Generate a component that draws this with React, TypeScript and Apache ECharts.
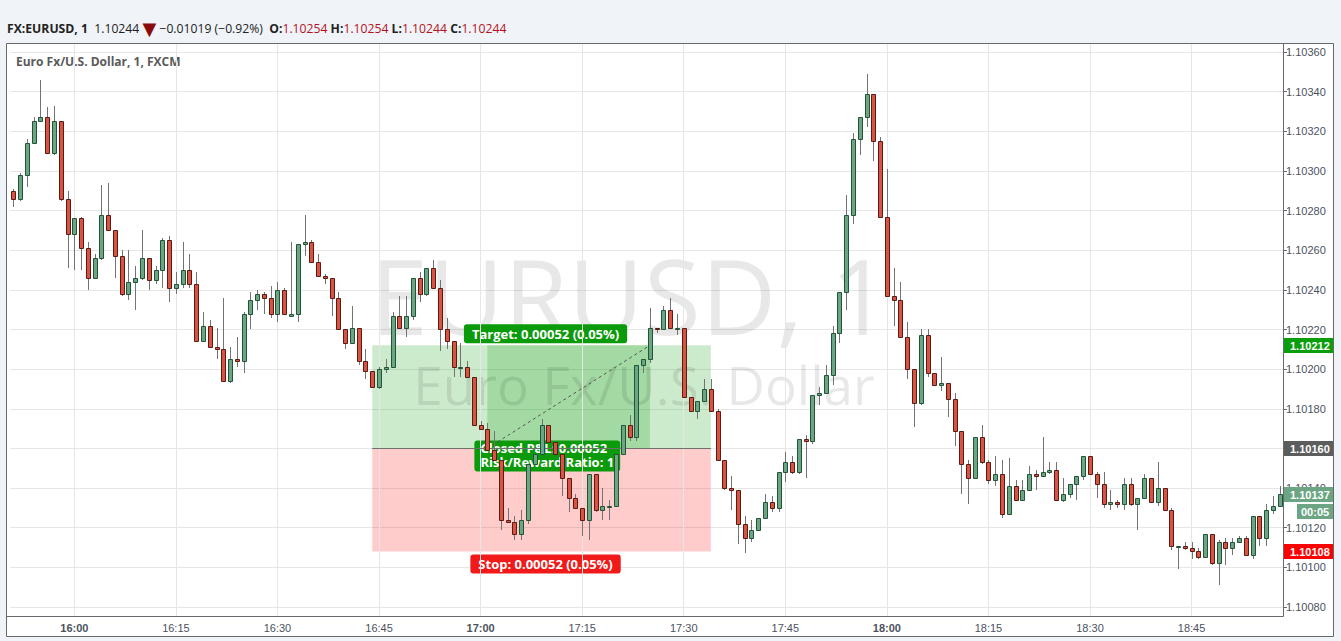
import React, { useEffect, useRef } from 'react';
import * as echarts from 'echarts';

// ---------- categories (1-minute bars from 15:51) ----------
const firstBarMinute = 15 * 60 + 51;
const barCount = 188;
const times: string[] = Array.from({ length: barCount }, (_, i) => {
  const m = firstBarMinute + i;
  return `${Math.floor(m / 60)}:${String(m % 60).padStart(2, '0')}`;
});

// ---------- OHLC values ----------
const openPrices = [
  1.10290, 1.10286, 1.10298, 1.10314, 1.10325, 1.10327, 1.10309, 1.10325, 1.10286, 1.10268,
  1.10276, 1.10261, 1.10246, 1.10256, 1.10278, 1.10270, 1.10257, 1.10238, 1.10244, 1.10246,
  1.10256, 1.10245, 1.10250, 1.10265, 1.10241, 1.10243, 1.10250, 1.10243, 1.10214, 1.10222,
  1.10211, 1.10210, 1.10194, 1.10205, 1.10204, 1.10228, 1.10235, 1.10238, 1.10236, 1.10228,
  1.10240, 1.10227, 1.10228, 1.10263, 1.10264, 1.10254, 1.10247, 1.10246, 1.10236, 1.10220,
  1.10213, 1.10221, 1.10204, 1.10199, 1.10191, 1.10200, 1.10201, 1.10227, 1.10221, 1.10227,
  1.10246, 1.10238, 1.10251, 1.10241, 1.10220, 1.10214, 1.10201, 1.10201, 1.10196, 1.10172,
  1.10170, 1.10159, 1.10154, 1.10124, 1.10123, 1.10117, 1.10124, 1.10152, 1.10157, 1.10172,
  1.10163, 1.10157, 1.10145, 1.10135, 1.10130, 1.10124, 1.10147, 1.10129, 1.10131, 1.10131,
  1.10157, 1.10172, 1.10166, 1.10202, 1.10205, 1.10221, 1.10220, 1.10230, 1.10221, 1.10221,
  1.10186, 1.10179, 1.10184, 1.10190, 1.10179, 1.10154, 1.10140, 1.10139, 1.10122, 1.10115,
  1.10119, 1.10125, 1.10133, 1.10130, 1.10148, 1.10153, 1.10148, 1.10165, 1.10164, 1.10187,
  1.10188, 1.10197, 1.10218, 1.10239, 1.10278, 1.10316, 1.10327, 1.10339, 1.10315, 1.10277,
  1.10237, 1.10235, 1.10216, 1.10200, 1.10183, 1.10217, 1.10198, 1.10192, 1.10193, 1.10185,
  1.10169, 1.10152, 1.10145, 1.10166, 1.10153, 1.10144, 1.10147, 1.10127, 1.10141, 1.10134,
  1.10139, 1.10147, 1.10146, 1.10148, 1.10149, 1.10134, 1.10137, 1.10142, 1.10146, 1.10156,
  1.10147, 1.10142, 1.10132, 1.10133, 1.10132, 1.10142, 1.10132, 1.10135, 1.10145, 1.10133,
  1.10140, 1.10129, 1.10111, 1.10111, 1.10110, 1.10108, 1.10105, 1.10117, 1.10102, 1.10113,
  1.10110, 1.10113, 1.10115, 1.10106, 1.10126, 1.10115, 1.10129, 1.10131,
];
const highPrices = [
  1.10291, 1.10299, 1.10316, 1.10327, 1.10346, 1.10332, 1.10333, 1.10325, 1.10290, 1.10276,
  1.10277, 1.10264, 1.10258, 1.10293, 1.10294, 1.10270, 1.10260, 1.10260, 1.10252, 1.10270,
  1.10256, 1.10252, 1.10266, 1.10267, 1.10249, 1.10264, 1.10258, 1.10249, 1.10229, 1.10225,
  1.10221, 1.10236, 1.10211, 1.10216, 1.10229, 1.10239, 1.10240, 1.10239, 1.10242, 1.10244,
  1.10241, 1.10264, 1.10263, 1.10278, 1.10265, 1.10258, 1.10248, 1.10246, 1.10239, 1.10220,
  1.10232, 1.10221, 1.10210, 1.10199, 1.10201, 1.10205, 1.10229, 1.10237, 1.10237, 1.10246,
  1.10249, 1.10251, 1.10255, 1.10245, 1.10226, 1.10214, 1.10213, 1.10204, 1.10196, 1.10174,
  1.10173, 1.10169, 1.10154, 1.10130, 1.10126, 1.10129, 1.10152, 1.10157, 1.10175, 1.10172,
  1.10163, 1.10157, 1.10145, 1.10137, 1.10130, 1.10147, 1.10147, 1.10140, 1.10134, 1.10157,
  1.10172, 1.10177, 1.10202, 1.10205, 1.10231, 1.10221, 1.10232, 1.10236, 1.10228, 1.10221,
  1.10186, 1.10184, 1.10195, 1.10195, 1.10180, 1.10154, 1.10146, 1.10139, 1.10126, 1.10124,
  1.10125, 1.10137, 1.10136, 1.10148, 1.10158, 1.10156, 1.10165, 1.10167, 1.10187, 1.10191,
  1.10202, 1.10222, 1.10239, 1.10288, 1.10319, 1.10327, 1.10349, 1.10339, 1.10317, 1.10301,
  1.10251, 1.10244, 1.10224, 1.10200, 1.10220, 1.10220, 1.10198, 1.10206, 1.10193, 1.10188,
  1.10169, 1.10154, 1.10166, 1.10172, 1.10154, 1.10156, 1.10154, 1.10155, 1.10144, 1.10144,
  1.10151, 1.10149, 1.10166, 1.10153, 1.10153, 1.10145, 1.10142, 1.10146, 1.10156, 1.10156,
  1.10148, 1.10148, 1.10139, 1.10134, 1.10145, 1.10145, 1.10135, 1.10147, 1.10145, 1.10153,
  1.10140, 1.10130, 1.10111, 1.10113, 1.10113, 1.10110, 1.10117, 1.10117, 1.10114, 1.10115,
  1.10115, 1.10116, 1.10116, 1.10126, 1.10126, 1.10132, 1.10136, 1.10141,
];
const lowPrices = [
  1.10282, 1.10285, 1.10292, 1.10314, 1.10325, 1.10309, 1.10308, 1.10285, 1.10251, 1.10250,
  1.10250, 1.10240, 1.10246, 1.10255, 1.10270, 1.10246, 1.10237, 1.10235, 1.10230, 1.10245,
  1.10240, 1.10243, 1.10241, 1.10234, 1.10238, 1.10241, 1.10241, 1.10214, 1.10214, 1.10211,
  1.10205, 1.10194, 1.10193, 1.10201, 1.10198, 1.10220, 1.10230, 1.10228, 1.10226, 1.10224,
  1.10228, 1.10227, 1.10224, 1.10257, 1.10254, 1.10247, 1.10243, 1.10227, 1.10220, 1.10210,
  1.10213, 1.10202, 1.10195, 1.10191, 1.10190, 1.10198, 1.10201, 1.10220, 1.10216, 1.10225,
  1.10234, 1.10237, 1.10241, 1.10209, 1.10210, 1.10196, 1.10196, 1.10196, 1.10172, 1.10170,
  1.10159, 1.10154, 1.10119, 1.10123, 1.10114, 1.10114, 1.10122, 1.10152, 1.10157, 1.10163,
  1.10157, 1.10136, 1.10128, 1.10130, 1.10116, 1.10114, 1.10128, 1.10124, 1.10124, 1.10131,
  1.10157, 1.10164, 1.10164, 1.10198, 1.10203, 1.10218, 1.10220, 1.10221, 1.10217, 1.10186,
  1.10179, 1.10175, 1.10184, 1.10179, 1.10154, 1.10139, 1.10129, 1.10112, 1.10107, 1.10113,
  1.10119, 1.10125, 1.10128, 1.10128, 1.10143, 1.10147, 1.10147, 1.10145, 1.10162, 1.10182,
  1.10188, 1.10192, 1.10213, 1.10230, 1.10273, 1.10308, 1.10322, 1.10305, 1.10277, 1.10237,
  1.10222, 1.10216, 1.10195, 1.10171, 1.10182, 1.10196, 1.10192, 1.10189, 1.10176, 1.10161,
  1.10137, 1.10132, 1.10145, 1.10152, 1.10142, 1.10141, 1.10125, 1.10127, 1.10134, 1.10134,
  1.10139, 1.10139, 1.10146, 1.10147, 1.10134, 1.10133, 1.10135, 1.10134, 1.10144, 1.10147,
  1.10135, 1.10130, 1.10129, 1.10130, 1.10129, 1.10131, 1.10119, 1.10135, 1.10133, 1.10131,
  1.10129, 1.10109, 1.10099, 1.10109, 1.10104, 1.10104, 1.10105, 1.10101, 1.10091, 1.10101,
  1.10106, 1.10113, 1.10106, 1.10104, 1.10111, 1.10111, 1.10127, 1.10131,
];
const closePrices = [
  1.10286, 1.10298, 1.10314, 1.10325, 1.10327, 1.10309, 1.10325, 1.10286, 1.10268, 1.10276,
  1.10261, 1.10246, 1.10256, 1.10278, 1.10270, 1.10257, 1.10238, 1.10244, 1.10246, 1.10256,
  1.10245, 1.10250, 1.10265, 1.10241, 1.10243, 1.10250, 1.10243, 1.10214, 1.10222, 1.10211,
  1.10210, 1.10194, 1.10205, 1.10204, 1.10228, 1.10235, 1.10238, 1.10236, 1.10228, 1.10240,
  1.10228, 1.10228, 1.10263, 1.10264, 1.10254, 1.10247, 1.10246, 1.10236, 1.10220, 1.10213,
  1.10221, 1.10204, 1.10199, 1.10191, 1.10200, 1.10201, 1.10227, 1.10221, 1.10227, 1.10246,
  1.10238, 1.10251, 1.10241, 1.10220, 1.10214, 1.10201, 1.10201, 1.10196, 1.10172, 1.10170,
  1.10159, 1.10154, 1.10124, 1.10123, 1.10117, 1.10124, 1.10152, 1.10157, 1.10172, 1.10163,
  1.10157, 1.10145, 1.10135, 1.10130, 1.10124, 1.10147, 1.10129, 1.10131, 1.10131, 1.10157,
  1.10172, 1.10166, 1.10202, 1.10205, 1.10221, 1.10220, 1.10230, 1.10221, 1.10221, 1.10186,
  1.10179, 1.10184, 1.10190, 1.10179, 1.10154, 1.10140, 1.10139, 1.10122, 1.10115, 1.10119,
  1.10125, 1.10133, 1.10130, 1.10148, 1.10153, 1.10148, 1.10165, 1.10164, 1.10187, 1.10188,
  1.10197, 1.10218, 1.10239, 1.10278, 1.10316, 1.10327, 1.10339, 1.10315, 1.10277, 1.10237,
  1.10235, 1.10216, 1.10200, 1.10183, 1.10217, 1.10198, 1.10192, 1.10193, 1.10185, 1.10169,
  1.10152, 1.10145, 1.10166, 1.10153, 1.10144, 1.10147, 1.10127, 1.10141, 1.10134, 1.10139,
  1.10147, 1.10146, 1.10148, 1.10149, 1.10134, 1.10137, 1.10142, 1.10146, 1.10156, 1.10147,
  1.10142, 1.10132, 1.10133, 1.10132, 1.10142, 1.10132, 1.10135, 1.10145, 1.10133, 1.10140,
  1.10129, 1.10111, 1.10111, 1.10110, 1.10108, 1.10105, 1.10117, 1.10102, 1.10113, 1.10110,
  1.10113, 1.10115, 1.10106, 1.10126, 1.10115, 1.10129, 1.10131, 1.10137,
];

// ---------- axis / annotation values ----------
const priceMin = 1.1008;
const priceMax = 1.1036;
const priceStep = 0.0002;
const timeLabelEvery = 15;
const firstLabelIndex = 9; // 16:00
const crosshairPrice = 1.10244;
const entryPrice = 1.1016;
const targetPrice = 1.10212;
const stopPrice = 1.10108;
const lastPrice = 1.10137;
const positionStart = '16:44';
const positionEnd = '17:34';
const entryTime = '17:01';
const exitTime = '17:25';
const targetText = 'Target: 0.00052 (0.05%)';
const stopText = 'Stop: 0.00052 (0.05%)';
const closedText = 'Closed P&L: 0.00052\nRisk/Reward Ratio: 1';
const countdownText = '00:05';

const UP_FILL = '#6ba583';
const UP_BORDER = '#225437';
const DOWN_FILL = '#d75442';
const DOWN_BORDER = '#5b1a13';
const WICK = '#737375';
const GRID = '#e6e6e6';
const FRAME = '#666a70';
const AXIS_TEXT = '#4c525e';
const LABEL_FONT = '"Open Sans", "Noto Sans", sans-serif';
const AXIS_FONT = '"Liberation Sans", Arial, sans-serif';

const candleRows = times.map((_, i) => [i, openPrices[i], closePrices[i], lowPrices[i], highPrices[i]]);
const labelTimes = times.filter((_, i) => i >= firstLabelIndex && (i - firstLabelIndex) % timeLabelEvery === 0);

const renderCandle = (_params: any, api: any) => {
  const i = api.value(0);
  const o = api.value(1);
  const c = api.value(2);
  const l = api.value(3);
  const h = api.value(4);
  const po = api.coord([i, o]);
  const pc = api.coord([i, c]);
  const pl = api.coord([i, l]);
  const ph = api.coord([i, h]);
  const xc = Math.round(po[0]);
  const up = c >= o;
  const top = Math.round(Math.min(po[1], pc[1]));
  let bot = Math.round(Math.max(po[1], pc[1]));
  if (bot - top < 1) bot = top + 1;
  return {
    type: 'group',
    children: [
      {
        type: 'line',
        shape: { x1: xc + 0.5, y1: Math.round(ph[1]), x2: xc + 0.5, y2: Math.round(pl[1]) },
        style: { stroke: WICK, lineWidth: 1 },
      },
      {
        type: 'rect',
        shape: { x: xc - 1.5, y: top + 0.5, width: 4, height: bot - top },
        style: { fill: up ? UP_FILL : DOWN_FILL, stroke: up ? UP_BORDER : DOWN_BORDER, lineWidth: 1 },
      },
    ],
  };
};

export default function App() {
  const ref = useRef<HTMLDivElement>(null);

  useEffect(() => {
    if (!ref.current) return;
    const chart = echarts.init(ref.current, undefined, { renderer: 'svg' });
    const W = 1341;
    const H = 641;
    const plotLeft = 6;
    const plotTop = 44;
    const plotRight = 1283;
    const plotBottom = 616;
    const frameRight = 1333;
    const frameBottom = 637;

    chart.setOption({
      animation: false,
      backgroundColor: '#f0f3f7',
      grid: [
        { left: 10, right: W - plotRight, top: 52, bottom: H - 607 },
        { left: 10, right: W - plotRight, top: plotTop, bottom: H - plotBottom },
      ],
      xAxis: [
        { type: 'category', gridIndex: 0, data: times, boundaryGap: true, show: false },
        {
          type: 'category',
          gridIndex: 1,
          data: times,
          boundaryGap: true,
          axisLine: { show: false },
          axisTick: { show: false },
          splitLine: { show: false },
          axisLabel: {
            interval: (index: number) => index >= firstLabelIndex && (index - firstLabelIndex) % timeLabelEvery === 0,
            color: AXIS_TEXT,
            fontSize: 11,
            fontFamily: AXIS_FONT,
            margin: 6,
            formatter: (v: string) => (v.endsWith(':00') ? `{b|${v}}` : v),
            rich: { b: { fontWeight: 'bold', fontSize: 11, fontFamily: AXIS_FONT, color: AXIS_TEXT } },
          },
        },
      ],
      yAxis: [
        {
          type: 'value',
          gridIndex: 0,
          position: 'right',
          min: priceMin,
          max: priceMax,
          interval: priceStep,
          axisLine: { show: false },
          axisTick: { show: true, length: 4, lineStyle: { color: FRAME } },
          axisLabel: {
            color: AXIS_TEXT,
            fontSize: 11,
            fontFamily: AXIS_FONT,
            margin: 3,
            // the 1.10160 tick label is fully covered by the entry-price marker
            formatter: (v: number) => (Math.abs(v - entryPrice) < 1e-9 ? '' : v.toFixed(5)),
          },
          splitLine: { show: true, lineStyle: { color: GRID, width: 1 } },
        },
        { type: 'value', gridIndex: 1, min: 0, max: 1, show: false },
      ],
      series: [
        {
          type: 'line',
          xAxisIndex: 1,
          yAxisIndex: 1,
          data: [],
          z: 1,
          silent: true,
          markLine: {
            silent: true,
            symbol: ['none', 'none'],
            label: { show: false },
            lineStyle: { color: GRID, width: 1, type: 'solid' },
            data: labelTimes.map((t) => ({ xAxis: t })),
          },
        },
        {
          type: 'line',
          xAxisIndex: 0,
          yAxisIndex: 0,
          data: [],
          z: 2,
          silent: true,
          markArea: {
            silent: true,
            data: [
              [
                { xAxis: positionStart, yAxis: entryPrice, itemStyle: { color: 'rgba(0,150,0,0.2)' } },
                { xAxis: positionEnd, yAxis: targetPrice },
              ],
              [
                { xAxis: entryTime, yAxis: entryPrice, itemStyle: { color: 'rgba(0,150,0,0.2)' } },
                { xAxis: exitTime, yAxis: targetPrice },
              ],
              [
                { xAxis: positionStart, yAxis: stopPrice, itemStyle: { color: 'rgba(255,0,0,0.2)' } },
                { xAxis: positionEnd, yAxis: entryPrice },
              ],
            ],
          },
          markLine: {
            silent: true,
            symbol: ['none', 'none'],
            label: { show: false },
            data: [
              [
                { coord: [positionStart, entryPrice], lineStyle: { color: '#6f6f6f', width: 1, type: 'solid' } },
                { coord: [positionEnd, entryPrice] },
              ],
              [
                { coord: [entryTime, entryPrice], lineStyle: { color: '#555', width: 1, type: [3, 3] } },
                { coord: [exitTime, targetPrice] },
              ],
              { yAxis: crosshairPrice, lineStyle: { color: '#c8392d', width: 1, type: [2, 2] } },
            ],
          },
        },
        {
          type: 'custom',
          xAxisIndex: 0,
          yAxisIndex: 0,
          z: 5,
          data: candleRows,
          encode: { x: 0, y: [1, 2, 3, 4] },
          renderItem: renderCandle,
        },
      ],
    });

    const px = (t: string, p: number) =>
      chart.convertToPixel({ gridIndex: 0 }, [times.indexOf(t), p]) as number[];
    const py = (p: number) => chart.convertToPixel({ yAxisIndex: 0 }, p) as number;

    const startPt = px(positionStart, entryPrice);
    const endPt = px(positionEnd, entryPrice);
    const entryPt = px(entryTime, entryPrice);
    const midX = (startPt[0] + endPt[0]) / 2 + 4;
    const yTarget = py(targetPrice);
    const yStop = py(stopPrice);
    const yEntry = py(entryPrice);
    const yLast = py(lastPrice);

    const labelStyle = (text: string, bg: string) => ({
      text,
      fill: '#fff',
      fontSize: 13,
      fontWeight: 'bold',
      fontFamily: LABEL_FONT,
      backgroundColor: bg,
      borderRadius: 3,
      padding: [3, 8, 3, 8],
    });

    const axisMarker = (p: number, text: string, bg: string) => {
      const y = Math.round(py(p));
      return [
        { type: 'rect', z: 8, shape: { x: plotRight, y: y - 7, width: 51, height: 15 }, style: { fill: bg } },
        {
          type: 'text',
          z: 9,
          x: plotRight + 7,
          y: y + 0.5,
          style: { text, fill: '#fff', fontSize: 11, fontWeight: 'bold', fontFamily: AXIS_FONT, align: 'left', verticalAlign: 'middle' },
        },
      ];
    };

    const yl = Math.round(yLast);
    chart.setOption({
      graphic: {
        elements: [
          { type: 'rect', z: -10, shape: { x: plotLeft, y: plotTop, width: frameRight - plotLeft, height: frameBottom - plotTop }, style: { fill: '#ffffff' } },
          {
            type: 'text',
            z: 3,
            x: 630,
            y: 294,
            style: { text: 'EURUSD, 1', fontSize: 104, fontFamily: LABEL_FONT, fill: 'rgba(0,0,0,0.09)', align: 'center', verticalAlign: 'middle' },
          },
          {
            type: 'text',
            z: 3,
            x: 644,
            y: 384,
            style: { text: 'Euro Fx/U.S. Dollar', fontSize: 53, fontFamily: LABEL_FONT, fill: 'rgba(0,0,0,0.09)', align: 'center', verticalAlign: 'middle' },
          },
          {
            type: 'text',
            z: 4,
            x: 16,
            y: 61,
            style: { text: 'Euro Fx/U.S. Dollar, 1, FXCM', fontSize: 12, fontWeight: 'bold', fontFamily: LABEL_FONT, fill: '#5a5a5a', align: 'left', verticalAlign: 'middle' },
          },
          {
            type: 'text',
            z: 4,
            x: 7,
            y: 28,
            style: {
              text: '{b|FX:EURUSD, 1}  {n|1.10244} {d|▼} {n|−0.01019 (−0.92%)}  {b|O:}{r|1.10254} {b|H:}{r|1.10254} {b|L:}{r|1.10244} {b|C:}{r|1.10244}',
              fontSize: 12.2,
              fontFamily: LABEL_FONT,
              fill: '#222',
              align: 'left',
              verticalAlign: 'middle',
              rich: {
                b: { fontSize: 12.2, fontFamily: LABEL_FONT, fontWeight: 'bold', fill: '#222' },
                n: { fontSize: 12.2, fontFamily: LABEL_FONT, fill: '#222' },
                d: { fontSize: 18, fontFamily: '"DejaVu Sans", sans-serif', fill: '#8b0a0a' },
                r: { fontSize: 12.2, fontFamily: LABEL_FONT, fill: '#b5121b' },
              },
            },
          },
          {
            type: 'text',
            z: 4,
            x: midX,
            y: yTarget - 2,
            style: { ...labelStyle(targetText, '#0a9a0a'), align: 'center', verticalAlign: 'bottom' },
          },
          {
            type: 'text',
            z: 4,
            x: midX,
            y: yStop + 3,
            style: { ...labelStyle(stopText, '#f01a1a'), align: 'center', verticalAlign: 'top' },
          },
          {
            type: 'text',
            z: 4,
            x: entryPt[0] - 13,
            y: yEntry - 8,
            style: { ...labelStyle(closedText, '#0a9a0a'), lineHeight: 14, padding: [1, 6, 2, 6], align: 'left', verticalAlign: 'top' },
          },
          ...axisMarker(targetPrice, '1.10212', '#0b9e0b'),
          ...axisMarker(entryPrice, '1.10160', '#5d5d5d'),
          ...axisMarker(lastPrice, '1.10137', UP_FILL),
          ...axisMarker(stopPrice, '1.10108', '#ff0000'),
          { type: 'rect', z: 8, shape: { x: plotRight + 14, y: yl + 10, width: 37, height: 15 }, style: { fill: UP_FILL } },
          {
            type: 'text',
            z: 9,
            x: plotRight + 18,
            y: yl + 17.5,
            style: { text: countdownText, fill: '#fff', fontSize: 11, fontWeight: 'bold', fontFamily: AXIS_FONT, align: 'left', verticalAlign: 'middle' },
          },
          {
            type: 'rect',
            z: 10,
            shape: { x: plotLeft + 0.5, y: plotTop - 0.5, width: frameRight - plotLeft, height: frameBottom - plotTop },
            style: { fill: 'none', stroke: FRAME, lineWidth: 1 },
          },
          { type: 'line', z: 10, shape: { x1: plotRight + 0.5, y1: plotTop, x2: plotRight + 0.5, y2: plotBottom + 0.5 }, style: { stroke: FRAME, lineWidth: 1 } },
          { type: 'line', z: 10, shape: { x1: plotLeft, y1: plotBottom + 0.5, x2: plotRight + 0.5, y2: plotBottom + 0.5 }, style: { stroke: FRAME, lineWidth: 1 } },
        ],
      },
    });

    return () => chart.dispose();
  }, []);

  return <div ref={ref} style={{ position: 'absolute', left: 0, top: 0, width: 1341, height: 641 }} />;
}
